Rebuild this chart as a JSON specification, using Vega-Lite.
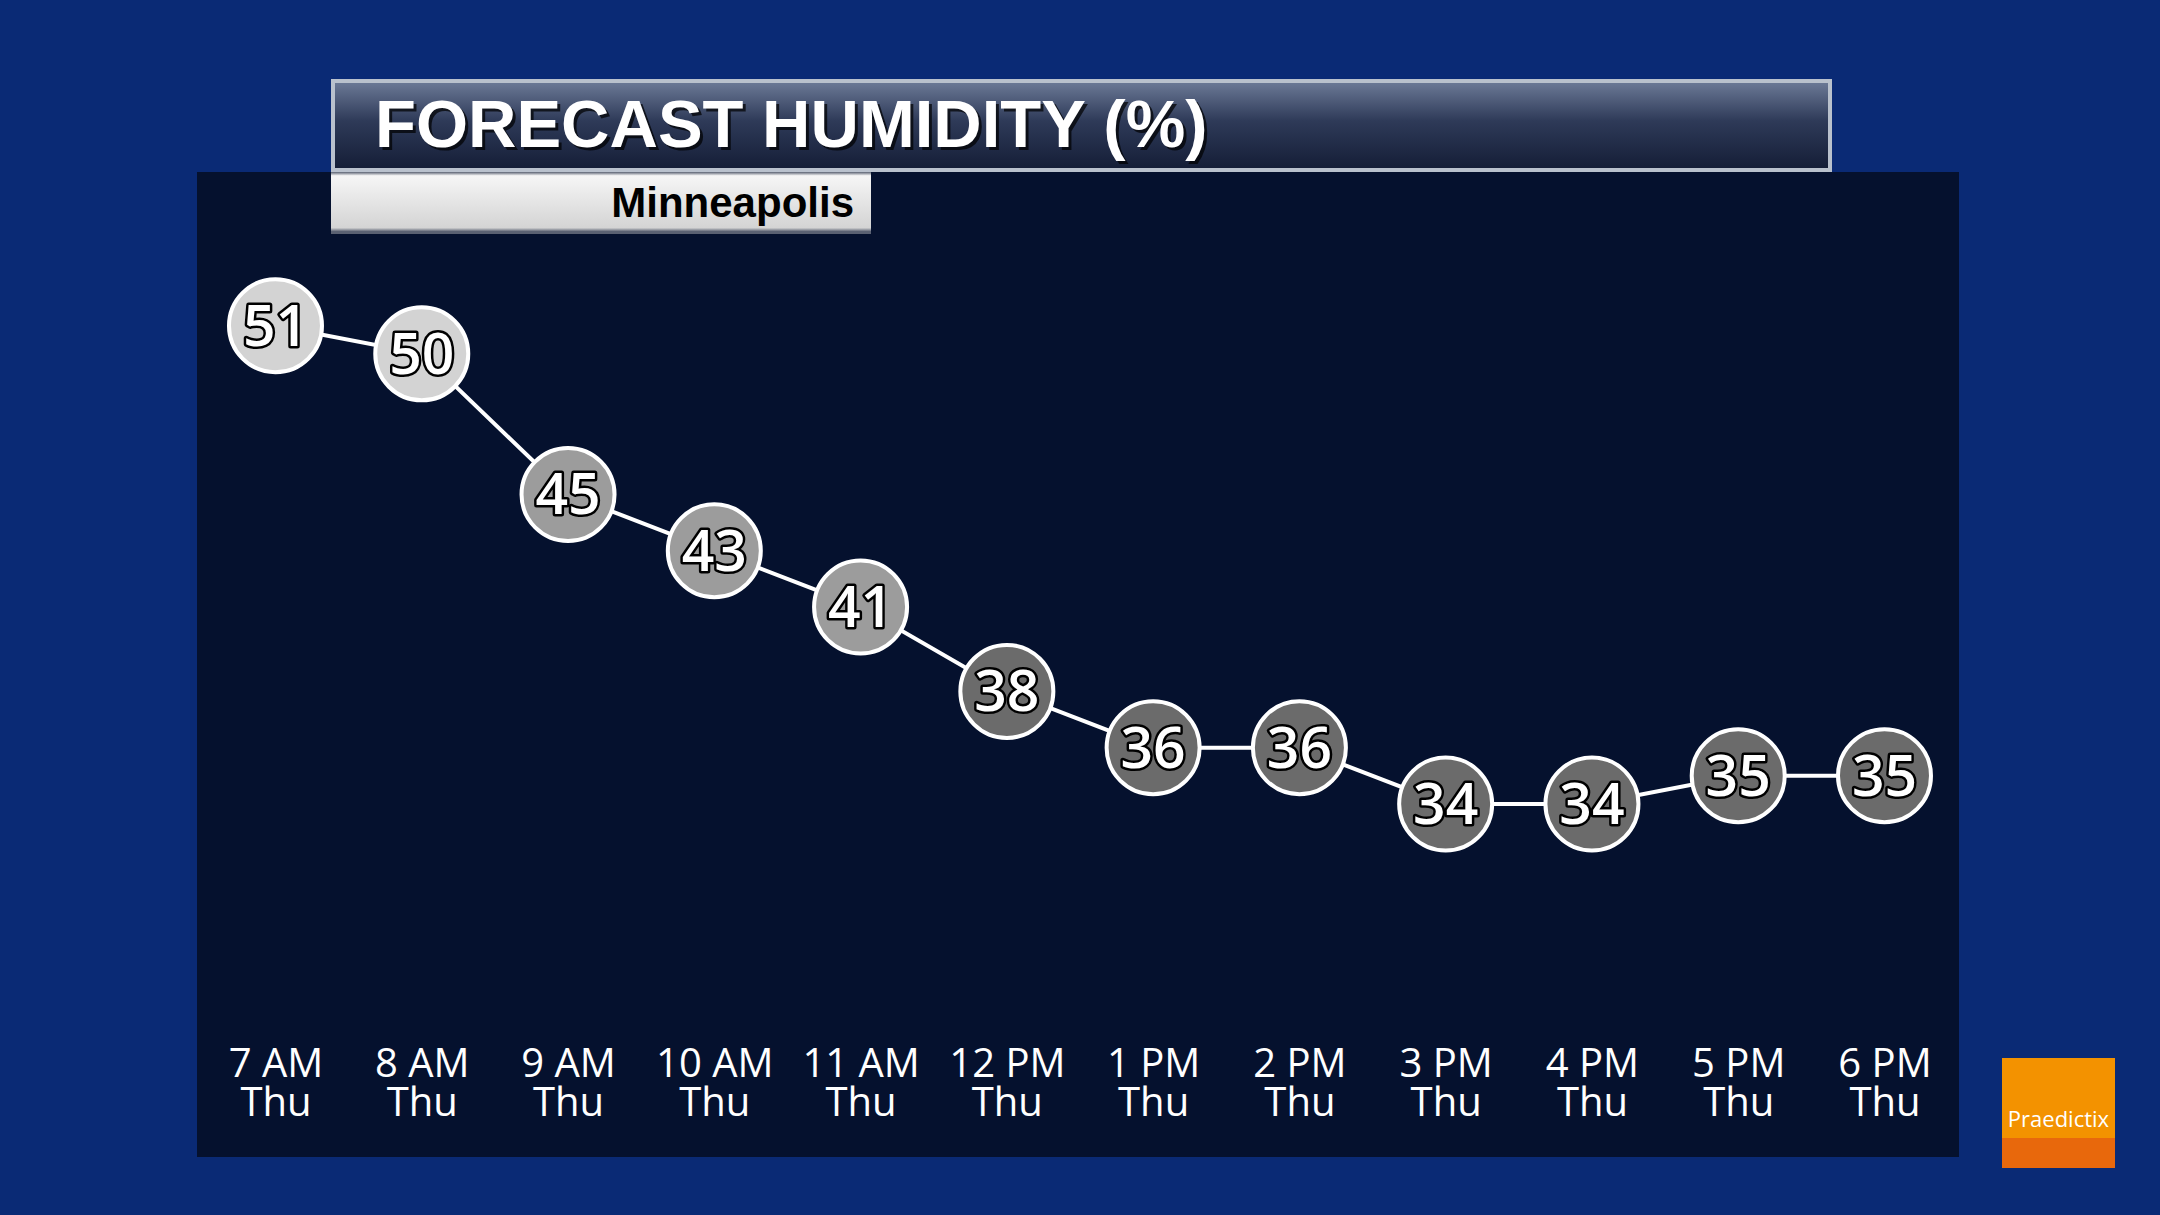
{
  "$schema": "https://vega.github.io/schema/vega-lite/v6.json",
  "background": "#0a2a75",
  "padding": {"left": 197, "top": 79, "right": 45, "bottom": 47},
  "autosize": {"type": "pad"},
  "spacing": 0,
  "config": {"view": {"stroke": null}, "concat": {"spacing": 0}},
  "vconcat": [
    {
      "spacing": 0,
      "hconcat": [
        {"width": 134, "height": 89, "data": {"values": []}, "mark": "point"},
        {
          "width": 1497,
          "height": 89,
          "view": {
            "fill": {"gradient": "linear", "x1": 0, "y1": 0, "x2": 0, "y2": 1,
              "stops": [{"offset": 0, "color": "#6d7b98"}, {"offset": 0.45, "color": "#2e3a58"}, {"offset": 1, "color": "#141d36"}]},
            "stroke": "#b9c1cd",
            "strokeWidth": 4
          },
          "data": {"values": [{"title": "FORECAST HUMIDITY (%)"}]},
          "layer": [
            {"mark": {"type": "text", "align": "left", "baseline": "middle", "dx": -703.5, "dy": 4, "font": "Liberation Sans", "fontWeight": "bold", "fontSize": 67, "fill": "#000000", "opacity": 0.7},
             "encoding": {"text": {"field": "title", "type": "nominal"}}},
            {"mark": {"type": "text", "align": "left", "baseline": "middle", "dx": -706.5, "dy": 1, "font": "Liberation Sans", "fontWeight": "bold", "fontSize": 67, "fill": "#ffffff"},
             "encoding": {"text": {"field": "title", "type": "nominal"}}}
          ]
        }
      ]
    },
    {
      "spacing": 0,
      "hconcat": [
        {"width": 134, "height": 62, "view": {"fill": "#05112e"}, "data": {"values": []}, "mark": "point"},
        {
          "width": 540,
          "height": 62,
          "view": {
            "fill": {"gradient": "linear", "x1": 0, "y1": 0, "x2": 0, "y2": 1,
              "stops": [{"offset": 0, "color": "#5a6172"}, {"offset": 0.06, "color": "#f6f6f6"}, {"offset": 0.9, "color": "#d4d4d4"}, {"offset": 0.96, "color": "#5a6172"}, {"offset": 1, "color": "#5a6172"}]}
          },
          "data": {"values": [{"city": "Minneapolis"}]},
          "mark": {"type": "text", "align": "right", "baseline": "middle", "dx": 253, "dy": 1, "font": "Liberation Sans", "fontWeight": "bold", "fontSize": 42, "fill": "#000000"},
          "encoding": {"text": {"field": "city", "type": "nominal"}}
        },
        {"width": 1088, "height": 62, "view": {"fill": "#05112e"}, "data": {"values": []}, "mark": "point"}
      ]
    },
    {
      "spacing": 43,
      "hconcat": [
        {
          "width": 1762,
          "height": 923,
          "view": {"fill": "#05112e"},
          "data": {
            "values": [
              {"time": "7 AM Thu", "humidity": 51},
              {"time": "8 AM Thu", "humidity": 50},
              {"time": "9 AM Thu", "humidity": 45},
              {"time": "10 AM Thu", "humidity": 43},
              {"time": "11 AM Thu", "humidity": 41},
              {"time": "12 PM Thu", "humidity": 38},
              {"time": "1 PM Thu", "humidity": 36},
              {"time": "2 PM Thu", "humidity": 36},
              {"time": "3 PM Thu", "humidity": 34},
              {"time": "4 PM Thu", "humidity": 34},
              {"time": "5 PM Thu", "humidity": 35},
              {"time": "6 PM Thu", "humidity": 35}
            ]
          },
          "encoding": {
            "x": {
              "field": "time", "type": "nominal", "sort": null,
              "scale": {"type": "point", "padding": 0.523, "align": 0.513},
              "axis": {
                "title": null, "domain": false, "ticks": false, "grid": false,
                "labelAngle": 0, "labelColor": "#ffffff", "labelFont": "Open Sans",
                "labelFontSize": 40, "labelLineHeight": 39, "labelPadding": -113,
                "labelBaseline": "top", "labelOverlap": false,
                "labelExpr": "[substring(datum.label, 0, lastindexof(datum.label, ' ')), substring(datum.label, lastindexof(datum.label, ' ') + 1)]"
              }
            },
            "y": {
              "field": "humidity", "type": "quantitative",
              "scale": {"domain": [21.45, 54.26], "nice": false, "zero": false},
              "axis": null
            }
          },
          "layer": [
            {"mark": {"type": "line", "color": "#ffffff", "strokeWidth": 4}},
            {
              "mark": {"type": "point", "shape": "circle", "filled": true, "size": 8650, "stroke": "#ffffff", "strokeWidth": 4, "opacity": 1},
              "encoding": {
                "fill": {"field": "humidity", "type": "quantitative",
                  "scale": {"type": "threshold", "domain": [40, 48], "range": ["#6b6b6b", "#9c9c9c", "#d3d3d3"]},
                  "legend": null}
              }
            },
            {
              "mark": {"type": "text", "font": "Open Sans", "fontWeight": 600, "fontSize": 57, "baseline": "middle", "dy": 3, "fill": "#000000", "stroke": "#000000", "strokeWidth": 5, "strokeJoin": "round"},
              "encoding": {"text": {"field": "humidity", "type": "quantitative"}}
            },
            {
              "mark": {"type": "text", "font": "Open Sans", "fontWeight": 600, "fontSize": 57, "baseline": "middle", "dy": 3, "fill": "#ffffff"},
              "encoding": {"text": {"field": "humidity", "type": "quantitative"}}
            }
          ]
        },
        {
          "spacing": 0,
          "vconcat": [
            {"width": 113, "height": 824, "data": {"values": []}, "mark": "point"},
            {
              "width": 113, "height": 80,
              "view": {"fill": "#f39200"},
              "data": {"values": [{"brand": "Praedictix"}]},
              "mark": {"type": "text", "baseline": "middle", "dy": 22, "font": "Open Sans", "fontSize": 22, "fill": "#ffffff"},
              "encoding": {"text": {"field": "brand", "type": "nominal"}}
            },
            {"width": 113, "height": 30, "view": {"fill": "#e8680c"}, "data": {"values": []}, "mark": "point"}
          ]
        }
      ]
    }
  ]
}
